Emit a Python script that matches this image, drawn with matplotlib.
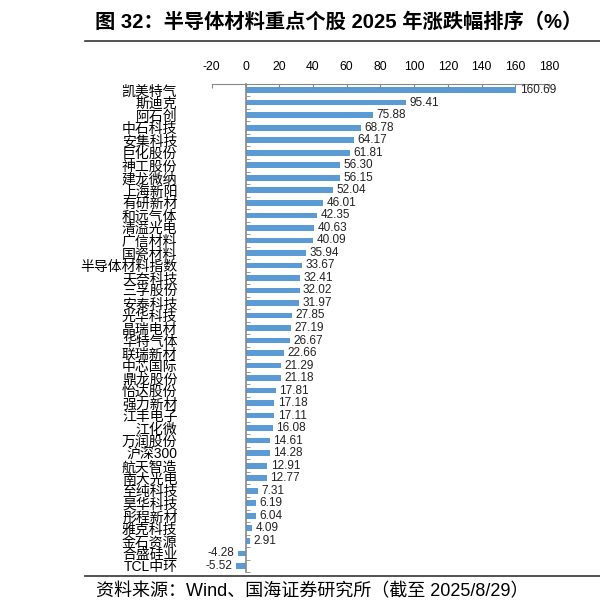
import matplotlib.pyplot as plt

plt.rcParams['font.family'] = ['Liberation Sans', 'Noto Sans CJK SC']

names = ['凯美特气', '斯迪克', '阿石创', '中石科技', '安集科技', '巨化股份', '神工股份',
         '建龙微纳', '上海新阳', '有研新材', '和远气体', '清溢光电', '广信材料', '国瓷材料',
         '半导体材料指数', '天奈科技', '三孚股份', '安泰科技', '光华科技', '晶瑞电材',
         '华特气体', '联瑞新材', '中芯国际', '鼎龙股份', '怡达股份', '强力新材', '江丰电子',
         '江化微', '万润股份', '沪深300', '航天智造', '南大光电', '至纯科技', '昊华科技',
         '彤程新材', '雅克科技', '金石资源', '合盛硅业', 'TCL中环']
changes = [160.69, 95.41, 75.88, 68.78, 64.17, 61.81, 56.30, 56.15, 52.04, 46.01,
           42.35, 40.63, 40.09, 35.94, 33.67, 32.41, 32.02, 31.97, 27.85, 27.19,
           26.67, 22.66, 21.29, 21.18, 17.81, 17.18, 17.11, 16.08, 14.61, 14.28,
           12.91, 12.77, 7.31, 6.19, 6.04, 4.09, 2.91, -4.28, -5.52]
xticks = list(range(-20, 181, 20))

fig = plt.figure(figsize=(6, 6.08), dpi=100)
ax = fig.add_axes([0.353, 0.059, 0.562, 0.803])

pos = list(range(len(names)))
ax.barh(pos, changes, height=0.45, color='#5B9BD5')
ax.set_ylim(len(names) - 0.5, -0.5)
ax.set_xlim(-20, 180)

for p, v in zip(pos, changes):
    if v >= 0:
        ax.text(v + 2, p, f'{v:.2f}', va='center', ha='left', fontsize=8.5, color='#222')
    else:
        ax.text(v - 2.5, p, f'{v:.2f}', va='center', ha='right', fontsize=8.5, color='#222')

ax.xaxis.tick_top()
ax.set_xticks(xticks)
ax.set_xticklabels([str(t) for t in xticks], fontsize=8.8)
ax.tick_params(axis='x', direction='in', length=3, color='#888', pad=8)

# labels sit relative to the zero spine, so push them out past the -20 edge
ax.set_yticks(pos)
ax.set_yticklabels(names, fontsize=7.5, color='#222')
ax.tick_params(axis='y', length=0, pad=49)
ax.set_yticks([p + 0.5 for p in pos], minor=True)
ax.tick_params(axis='y', which='minor', direction='in', length=3, color='#888')

for s in ['right', 'bottom']:
    ax.spines[s].set_visible(False)
ax.spines['top'].set_color('#888')
ax.spines['left'].set_color('#888')
ax.spines['left'].set_position(('data', 0))
ax.spines['left'].set_linewidth(1.2)

fig.text(0.158, 0.963, '图 32：半导体材料重点个股 2025 年涨跌幅排序（%）', fontsize=14.6,
         fontweight='bold', va='center', ha='left')
fig.add_artist(plt.Line2D([0.142, 1.0], [0.932, 0.932], color='#333', lw=1.2))
fig.add_artist(plt.Line2D([0.142, 1.0], [0.053, 0.053], color='#333', lw=1.2))
fig.text(0.16, 0.027, '资料来源：Wind、国海证券研究所（截至 2025/8/29）', fontsize=13,
         va='center', ha='left')

fig.savefig('out.png', dpi=100)
